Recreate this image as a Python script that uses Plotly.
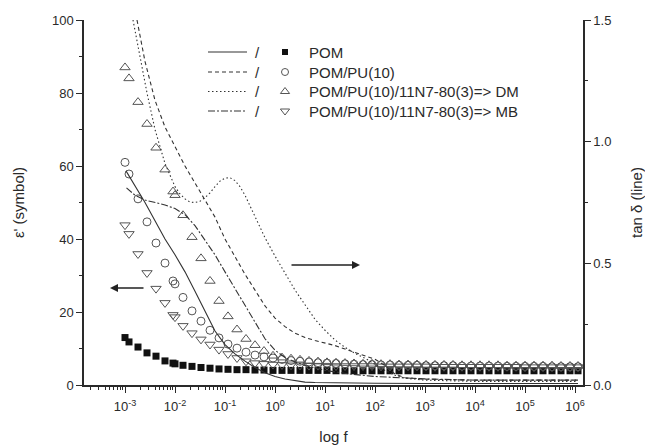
import plotly.graph_objects as go

# ---------------- data ----------------
# symbol series: epsilon' vs log10(f)
log_f = [-3.0, -2.92, -2.74, -2.56, -2.38, -2.2, -2.04, -2.0,
         -1.84, -1.66, -1.48, -1.3, -1.12, -0.94, -0.76, -0.58, -0.4, -0.22, -0.04,
         0.14, 0.32, 0.5, 0.68, 0.86, 1.04, 1.22, 1.4, 1.58, 1.76, 1.94,
         2.12, 2.3, 2.48, 2.66, 2.84, 3.02, 3.2, 3.38, 3.56, 3.74, 3.92,
         4.1, 4.28, 4.46, 4.64, 4.82, 5.0, 5.18, 5.36, 5.54, 5.72, 5.9, 6.06]

eps_pom = [13.0, 11.8, 10.4, 8.8, 7.9, 6.6, 6.0, 5.8,
           5.4, 5.1, 4.8, 4.6, 4.4, 4.3, 4.2, 4.2, 4.1, 4.1, 4.0,
           4.0, 4.0, 4.0, 4.0, 4.0, 4.0, 3.9, 3.9, 3.9, 3.9, 3.9,
           3.9, 3.9, 3.9, 3.9, 3.9, 3.9, 3.9, 3.9, 3.9, 3.9, 3.9,
           3.9, 3.9, 3.9, 3.9, 3.9, 3.9, 3.9, 3.9, 3.9, 3.9, 3.9, 3.9]

eps_pu = [61.0, 57.8, 51.0, 44.7, 38.9, 33.4, 28.5, 27.7,
          24.0, 20.3, 17.5, 15.0, 12.9, 11.2, 10.1, 9.0, 8.2, 7.7, 7.4,
          7.0, 6.7, 6.5, 6.3, 6.1, 6.0, 5.9, 5.8, 5.7, 5.6, 5.6,
          5.5, 5.5, 5.4, 5.4, 5.4, 5.3, 5.3, 5.3, 5.3, 5.2, 5.2,
          5.2, 5.2, 5.2, 5.1, 5.1, 5.1, 5.1, 5.1, 5.0, 5.0, 5.0, 5.0]

eps_dm = [87.0, 84.0, 77.5, 71.5, 65.0, 59.0, 53.0, 52.0,
          46.5, 40.5, 34.7, 28.5, 23.0, 18.8, 15.2, 12.6, 10.9, 9.3, 8.0,
          7.5, 7.2, 6.9, 6.6, 6.4, 6.2, 6.1, 6.0, 5.9, 5.8, 5.8,
          5.7, 5.7, 5.6, 5.6, 5.6, 5.5, 5.5, 5.5, 5.5, 5.4, 5.4,
          5.4, 5.4, 5.4, 5.3, 5.3, 5.3, 5.3, 5.3, 5.3, 5.2, 5.2, 5.2]

eps_mb = [43.8, 41.4, 35.9, 30.7, 26.4, 22.5, 19.2, 18.6,
          16.2, 14.2, 12.5, 11.1, 9.7, 8.5, 7.4, 6.5, 6.0, 5.8, 5.6,
          5.5, 5.4, 5.4, 5.3, 5.3, 5.3, 5.2, 5.2, 5.2, 5.2, 5.2,
          5.1, 5.1, 5.1, 5.1, 5.1, 5.1, 5.0, 5.0, 5.0, 5.0, 5.0,
          5.0, 5.0, 5.0, 5.0, 5.0, 4.9, 4.9, 4.9, 4.9, 4.9, 4.9, 4.9]

# line series: tan delta vs log10(f)
lf_pom = [-2.98, -2.8, -2.6, -2.4, -2.2, -2.0, -1.8, -1.6, -1.4, -1.2, -1.0, -0.8, -0.6,
          -0.4, -0.2, 0.0, 0.2, 0.4, 0.6, 0.8, 1.0, 1.5, 2.0, 3.0, 4.0, 5.0, 6.06]
tan_pom = [0.88, 0.82, 0.75, 0.675, 0.60, 0.535, 0.465, 0.385, 0.30, 0.222, 0.166, 0.128, 0.098,
           0.072, 0.05, 0.035, 0.025, 0.017, 0.012, 0.01, 0.009, 0.008, 0.007, 0.006, 0.006, 0.006, 0.006]

lf_pu = [-2.76, -2.6, -2.4, -2.2, -2.0, -1.8, -1.6, -1.4, -1.2, -1.0, -0.8, -0.6, -0.4, -0.2,
         0.0, 0.2, 0.4, 0.6, 0.8, 1.0, 1.2, 1.4, 1.6, 1.8, 2.0, 2.2, 2.4, 2.6, 3.0, 4.0, 5.0, 6.06]
tan_pu = [1.50, 1.33, 1.17, 1.06, 0.98, 0.90, 0.83, 0.76, 0.69, 0.60, 0.525, 0.455, 0.39, 0.325,
          0.275, 0.24, 0.213, 0.195, 0.183, 0.173, 0.162, 0.148, 0.135, 0.122, 0.106, 0.08, 0.045,
          0.03, 0.024, 0.02, 0.02, 0.02]

lf_dm = [-2.84, -2.7, -2.56, -2.4, -2.2, -2.0, -1.9, -1.8, -1.7, -1.6, -1.5, -1.4, -1.3, -1.2,
         -1.1, -1.0, -0.9, -0.8, -0.7, -0.6, -0.5, -0.4, -0.2, 0.0, 0.2, 0.4, 0.6, 0.8, 1.0, 1.2,
         1.4, 1.6, 1.8, 2.0, 2.2, 2.4, 2.6, 3.0, 4.0, 5.0, 6.06]
tan_dm = [1.50, 1.35, 1.20, 1.05, 0.91, 0.815, 0.785, 0.765, 0.752, 0.75, 0.755, 0.77, 0.79, 0.815,
          0.838, 0.85, 0.852, 0.84, 0.815, 0.78, 0.735, 0.69, 0.605, 0.53, 0.46, 0.39, 0.33, 0.27,
          0.225, 0.185, 0.155, 0.13, 0.11, 0.085, 0.06, 0.04, 0.028, 0.02, 0.015, 0.015, 0.015]

lf_mb = [-2.97, -2.8, -2.6, -2.4, -2.2, -2.0, -1.8, -1.6, -1.4, -1.2, -1.0, -0.8, -0.6, -0.4,
         -0.2, 0.0, 0.2, 0.4, 0.6, 0.8, 1.0, 1.5, 2.0, 2.5, 3.0, 4.0, 5.0, 6.06]
tan_mb = [0.81, 0.78, 0.76, 0.75, 0.74, 0.725, 0.70, 0.655, 0.595, 0.535, 0.465, 0.395, 0.33, 0.255,
          0.19, 0.143, 0.113, 0.095, 0.08, 0.07, 0.06, 0.045, 0.035, 0.03, 0.025, 0.02, 0.02, 0.02]

legend_labels = ["POM", "POM/PU(10)", "POM/PU(10)/11N7-80(3)=> DM", "POM/PU(10)/11N7-80(3)=> MB"]
x_tick_exp = [-3, -2, -1, 0, 1, 2, 3, 4, 5, 6]

# ---------------- styling ----------------
FONT = "Liberation Sans, Arial, sans-serif"
INK = "#2a2a2a"
SYM = "#555555"
LINE = "#333333"
DASHES = ["solid", "4px,3px", "1.5px,2.5px", "7px,2px,2px,2px"]

def f(lst):
    return [10 ** v for v in lst]

fig = go.Figure()

# tan delta lines (right axis)
for (lf, tv), dash in zip([(lf_pom, tan_pom), (lf_pu, tan_pu), (lf_dm, tan_dm), (lf_mb, tan_mb)], DASHES):
    fig.add_trace(go.Scatter(x=f(lf), y=tv, mode="lines", yaxis="y2",
                             line=dict(color=LINE, width=1.1, dash=dash),
                             showlegend=False, hoverinfo="skip"))

# epsilon' symbols (left axis)
sym_specs = [(eps_pom, "square", 7, "#111111", 0),
             (eps_pu, "circle-open", 8, SYM, 1),
             (eps_dm, "triangle-up-open", 9, SYM, 1),
             (eps_mb, "triangle-down-open", 9, SYM, 1)]
for ev, sym, size, col, lw in sym_specs:
    fig.add_trace(go.Scatter(x=f(log_f), y=ev, mode="markers",
                             marker=dict(symbol=sym, size=size, color=col,
                                         line=dict(color=col, width=lw)),
                             showlegend=False, hoverinfo="skip"))

# ---------------- manual legend on an overlay axis (fractions of plot area) ----------------
L, R, T, B = 84, 583, 20, 385
def px(xp): return (xp - L) / (R - L)
def py(yp): return (B - yp) / (B - T)

leg_rows = [52, 72, 91.5, 111]
for i, row in enumerate(leg_rows):
    fig.add_trace(go.Scatter(x=[px(208), px(247)], y=[py(row), py(row)], mode="lines",
                             xaxis="x3", yaxis="y3",
                             line=dict(color=LINE, width=1.1, dash=DASHES[i]),
                             showlegend=False, hoverinfo="skip"))
    ev, sym, size, col, lw = sym_specs[i]
    fig.add_trace(go.Scatter(x=[px(285)], y=[py(row)], mode="markers", xaxis="x3", yaxis="y3",
                             marker=dict(symbol=sym, size=size - 1, color=col,
                                         line=dict(color=col, width=lw)),
                             showlegend=False, hoverinfo="skip"))
    fig.add_annotation(x=px(257), y=py(row), xref="x3", yref="y3", text="/", showarrow=False,
                       font=dict(family=FONT, size=15, color=INK))
    fig.add_annotation(x=px(307), y=py(row), xref="x3", yref="y3", text=legend_labels[i],
                       showarrow=False, xanchor="left",
                       font=dict(family=FONT, size=15, color=INK))

# arrows
fig.add_annotation(x=px(110), y=py(288), xref="x3", yref="y3", ax=35, ay=0, text="",
                   showarrow=True, arrowhead=2, arrowsize=1, arrowwidth=1.6, arrowcolor="#222222")
fig.add_annotation(x=px(360), y=py(265), xref="x3", yref="y3", ax=-70, ay=0, text="",
                   showarrow=True, arrowhead=2, arrowsize=1, arrowwidth=1.6, arrowcolor="#222222")

# minor tick positions on the log axis
minor_x = [m * 10 ** e for e in range(-4, 7) for m in range(2, 10)]

tickfont = dict(family=FONT, size=13, color=INK)
titlefont = dict(family=FONT, size=15, color=INK)

fig.update_layout(
    width=645, height=448,
    margin=dict(l=L, r=645 - R, t=T, b=448 - B, autoexpand=False),
    paper_bgcolor="white", plot_bgcolor="white",
    xaxis=dict(type="log", range=[-3.82, 6.16], automargin=False,
               tickvals=[10 ** e for e in x_tick_exp],
               ticktext=["10<sup>%d</sup>" % e for e in x_tick_exp],
               ticks="outside", ticklen=6, tickwidth=1.2, tickcolor=INK,
               minor=dict(tickvals=minor_x, ticks="outside", ticklen=3, tickcolor=INK, showgrid=False),
               showline=True, linecolor=INK, linewidth=1.5, showgrid=False, zeroline=False,
               tickfont=tickfont, ticklabelstandoff=3,
               title=dict(text="log f", font=titlefont, standoff=18)),
    yaxis=dict(range=[0, 100], dtick=20, ticks="outside", ticklen=6, tickwidth=1.2, tickcolor=INK,
               automargin=False,
               minor=dict(dtick=10, ticks="outside", ticklen=3, tickcolor=INK, showgrid=False),
               showline=True, linecolor=INK, linewidth=1.5, showgrid=False, zeroline=False,
               tickfont=tickfont,
               title=dict(text="ε' (symbol)", font=titlefont, standoff=24)),
    yaxis2=dict(range=[0, 1.5], dtick=0.5, tickformat=".1f", overlaying="y", side="right",
                automargin=False,
                ticks="outside", ticklen=6, tickwidth=1.2, tickcolor=INK,
                minor=dict(dtick=0.25, ticks="outside", ticklen=3, tickcolor=INK, showgrid=False),
                showline=True, linecolor=INK, linewidth=1.5, showgrid=False, zeroline=False,
                tickfont=tickfont,
                title=dict(text="tan δ (line)", font=titlefont, standoff=24)),
    xaxis3=dict(overlaying="x", range=[0, 1], visible=False, fixedrange=True),
    yaxis3=dict(overlaying="y", range=[0, 1], visible=False, fixedrange=True),
)

fig.write_html("out.html")
